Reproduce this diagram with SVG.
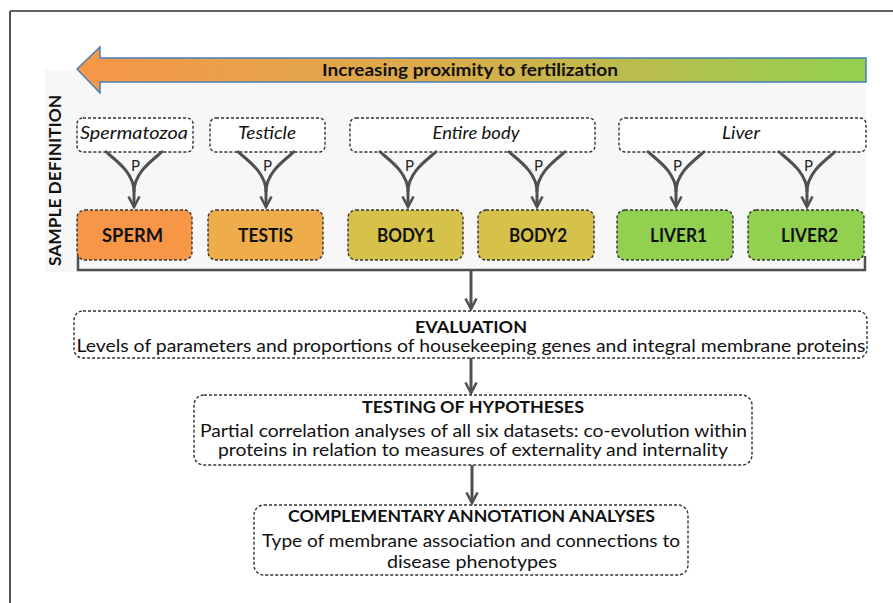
<svg xmlns="http://www.w3.org/2000/svg" width="893" height="603" viewBox="0 0 893 603">
<defs>
<linearGradient id="grad" x1="0" y1="0" x2="1" y2="0">
<stop offset="0" stop-color="#F79646"/>
<stop offset="0.5" stop-color="#D7AE4C"/>
<stop offset="1" stop-color="#92D050"/>
</linearGradient>
<marker id="ah" viewBox="0 0 14 14" refX="12" refY="7" markerWidth="14" markerHeight="14" orient="auto" markerUnits="userSpaceOnUse">
<path d="M1.5,1.5 L12,7 L1.5,12.5" fill="none" stroke="#505050" stroke-width="2.6" stroke-linejoin="miter"/>
</marker>
<style>
.lbl{fill:#fff;stroke:#333;stroke-width:1.4;stroke-dasharray:3 2}
.smp{stroke:#333;stroke-width:1.4;stroke-dasharray:3 2}
.box{fill:#fff;stroke:#333;stroke-width:1.4;stroke-dasharray:3 2}
.t{font-family:Lato,"Liberation Sans",sans-serif;fill:#111;text-anchor:middle}
.it{font-style:italic;font-size:17px}
.b{font-weight:bold}
.s18{font-size:18px}
.s17{font-size:17px}
.con{fill:none;stroke:#505050;stroke-width:3}
.P{font-family:Lato,"Liberation Sans",sans-serif;font-size:15px;fill:#222;text-anchor:middle}
</style>
</defs>
<rect width="893" height="603" fill="#fff"/>
<line x1="10" y1="11" x2="893" y2="11" stroke="#333" stroke-width="1.5"/>
<line x1="10" y1="11" x2="10" y2="603" stroke="#555" stroke-width="2"/>
<rect x="45" y="70" width="821" height="202" fill="#F7F7F7"/>
<g id="arrow">
<path d="M77,69 L100,47 L100,58 L866,58 L866,82 L100,82 L100,93 Z" fill="url(#grad)" stroke="#4A7EBB" stroke-width="1.5"/>
<text class="t b s17" x="470" y="76" textLength="296" lengthAdjust="spacingAndGlyphs">Increasing proximity to fertilization</text>
</g>
<text class="t b s17" transform="translate(61,180.5) rotate(-90)" x="0" y="0" textLength="171" lengthAdjust="spacingAndGlyphs">SAMPLE DEFINITION</text>
<g id="label-spermatozoa"><rect class="lbl" x="77" y="118" width="116" height="34" rx="6"/><text class="t it" x="134" y="139" textLength="108" lengthAdjust="spacingAndGlyphs">Spermatozoa</text></g>
<g id="label-testicle"><rect class="lbl" x="210" y="118" width="115" height="34" rx="6"/><text class="t it" x="267" y="139" textLength="58" lengthAdjust="spacingAndGlyphs">Testicle</text></g>
<g id="label-entirebody"><rect class="lbl" x="350" y="118" width="245" height="34" rx="6"/><text class="t it" x="476" y="139" textLength="87" lengthAdjust="spacingAndGlyphs">Entire body</text></g>
<g id="label-liver"><rect class="lbl" x="619" y="118" width="247" height="34" rx="6"/><text class="t it" x="741" y="139" textLength="38" lengthAdjust="spacingAndGlyphs">Liver</text></g>
<g id="connectors">
<path class="con" d="M105,151 C115,160 134,172 134,192 L134,207" marker-end="url(#ah)"/>
<path class="con" d="M163,151 C153,160 134,172 134,192"/>
<path class="con" d="M237,151 C247,160 266,172 266,192 L266,207" marker-end="url(#ah)"/>
<path class="con" d="M295,151 C285,160 266,172 266,192"/>
<path class="con" d="M379,151 C389,160 408,172 408,192 L408,207" marker-end="url(#ah)"/>
<path class="con" d="M437,151 C427,160 408,172 408,192"/>
<path class="con" d="M508,151 C518,160 537,172 537,192 L537,207" marker-end="url(#ah)"/>
<path class="con" d="M566,151 C556,160 537,172 537,192"/>
<path class="con" d="M647,151 C657,160 676,172 676,192 L676,207" marker-end="url(#ah)"/>
<path class="con" d="M705,151 C695,160 676,172 676,192"/>
<path class="con" d="M778,151 C788,160 807,172 807,192 L807,207" marker-end="url(#ah)"/>
<path class="con" d="M836,151 C826,160 807,172 807,192"/>
<path d="M78,256 L78,270 L865,270 L865,256" fill="none" stroke="#505050" stroke-width="2.5"/>
<path class="con" d="M471,270 L471,309" marker-end="url(#ah)"/>
<path class="con" d="M471,358 L471,393" marker-end="url(#ah)"/>
<path class="con" d="M472,465 L472,503" marker-end="url(#ah)"/>
</g>
<g class="P">
<text x="135.5" y="171">P</text><text x="267.5" y="171">P</text><text x="409.5" y="171">P</text><text x="538.5" y="171">P</text><text x="677.5" y="171">P</text><text x="808.5" y="171">P</text>
</g>
<g id="sperm"><rect class="smp" x="77" y="210" width="115" height="50" rx="8" fill="#F79646"/><text class="t b s18" x="132.5" y="242" textLength="61" lengthAdjust="spacingAndGlyphs">SPERM</text></g>
<g id="testis"><rect class="smp" x="208" y="210" width="115" height="50" rx="8" fill="#EEAD4A"/><text class="t b s18" x="265.5" y="242" textLength="55" lengthAdjust="spacingAndGlyphs">TESTIS</text></g>
<g id="body1"><rect class="smp" x="348" y="210" width="115" height="50" rx="8" fill="#D6C24B"/><text class="t b s18" x="406" y="242" textLength="58" lengthAdjust="spacingAndGlyphs">BODY1</text></g>
<g id="body2"><rect class="smp" x="478" y="210" width="116" height="50" rx="8" fill="#D6C24B"/><text class="t b s18" x="538" y="242" textLength="58" lengthAdjust="spacingAndGlyphs">BODY2</text></g>
<g id="liver1"><rect class="smp" x="617" y="210" width="116" height="50" rx="8" fill="#92D050"/><text class="t b s18" x="678.5" y="242" textLength="57" lengthAdjust="spacingAndGlyphs">LIVER1</text></g>
<g id="liver2"><rect class="smp" x="748" y="210" width="116" height="50" rx="8" fill="#92D050"/><text class="t b s18" x="809.5" y="242" textLength="57" lengthAdjust="spacingAndGlyphs">LIVER2</text></g>
<g id="evaluation"><rect class="box" x="74" y="311" width="793" height="47" rx="9"/>
<text class="t b s17" x="471" y="333" textLength="112" lengthAdjust="spacingAndGlyphs">EVALUATION</text>
<text class="t s17" x="471" y="352" textLength="789" lengthAdjust="spacingAndGlyphs">Levels of parameters and proportions of housekeeping genes and integral membrane proteins</text></g>
<g id="testing"><rect class="box" x="194" y="395" width="558" height="70" rx="10"/>
<text class="t b s17" x="473" y="413" textLength="222" lengthAdjust="spacingAndGlyphs">TESTING OF HYPOTHESES</text>
<text class="t s17" x="473.5" y="437" textLength="547" lengthAdjust="spacingAndGlyphs">Partial correlation analyses of all six datasets: co-evolution within</text>
<text class="t s17" x="473" y="456" textLength="510" lengthAdjust="spacingAndGlyphs">proteins in relation to measures of externality and internality</text></g>
<g id="complementary"><rect class="box" x="254" y="505" width="434" height="70" rx="10"/>
<text class="t b s17" x="471.5" y="522" textLength="367" lengthAdjust="spacingAndGlyphs">COMPLEMENTARY ANNOTATION ANALYSES</text>
<text class="t s17" x="471" y="547" textLength="418" lengthAdjust="spacingAndGlyphs">Type of membrane association and connections to</text>
<text class="t s17" x="472" y="568" textLength="170" lengthAdjust="spacingAndGlyphs">disease phenotypes</text></g>
</svg>
